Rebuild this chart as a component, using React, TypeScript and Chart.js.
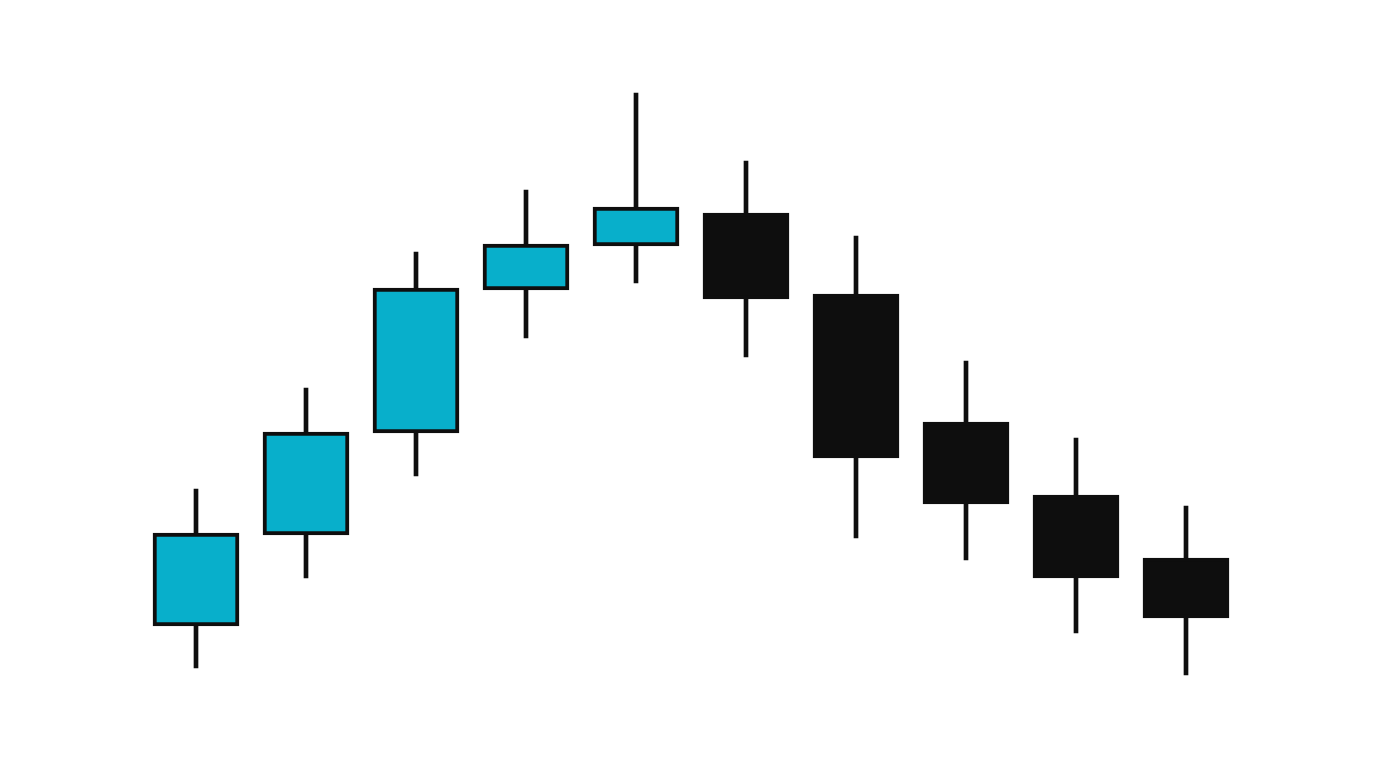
import {useEffect, useRef} from 'react'
import {Chart, registerables} from 'chart.js'

Chart.register(...registerables);

// ten sessions, price levels
const sessions = ['1', '2', '3', '4', '5', '6', '7', '8', '9', '10'];
const openPrices = [142, 233, 335, 478, 522, 555, 474, 346, 273, 210];
const closePrices = [235, 336, 480, 524, 561, 469, 310, 264, 190, 150];
const highPrices = [279, 380, 516, 578, 675, 607, 532, 407, 330, 262];
const lowPrices = [100, 190, 292, 430, 485, 411, 230, 208, 135, 93];

const UP_COLOR = '#08afcb';
const DOWN_COLOR = '#0e0e0e';

const CandleChart: React.FC = () => {
    const canvasRef = useRef<HTMLCanvasElement>(null);
    const chartRef = useRef<Chart | null>(null);

    useEffect(() => {
        document.body.style.margin = '0';
        if (!canvasRef.current) return;
        if (chartRef.current) {
            chartRef.current.destroy();
        }

        const bodies = openPrices.map((o, i) => [o, closePrices[i]]);
        const wicks = lowPrices.map((l, i) => [l, highPrices[i]]);
        const bodyColors = openPrices.map((o, i) => (closePrices[i] >= o ? UP_COLOR : DOWN_COLOR));

        chartRef.current = new Chart(canvasRef.current, {
            type: 'bar',
            data: {
                labels: sessions,
                datasets: [
                    {
                        label: 'Body',
                        data: bodies as any,
                        backgroundColor: bodyColors,
                        borderColor: '#0e0e0e',
                        borderWidth: 4,
                        borderSkipped: false,
                        barThickness: 86,
                        grouped: false,
                        order: 1,
                    },
                    {
                        label: 'Wick',
                        data: wicks as any,
                        backgroundColor: '#0e0e0e',
                        borderWidth: 0,
                        barThickness: 4,
                        grouped: false,
                        order: 2,
                    },
                ],
            },
            options: {
                animation: false,
                responsive: true,
                maintainAspectRatio: false,
                layout: {padding: {left: 141, right: 135, top: 0, bottom: 0}},
                plugins: {
                    legend: {display: false},
                    tooltip: {enabled: false},
                },
                scales: {
                    x: {display: false},
                    y: {display: false, min: 0, max: 768},
                },
            },
        });

        return () => {
            chartRef.current?.destroy();
            chartRef.current = null;
        };
    }, []);

    return (
        <div style={{position: 'relative', width: 1376, height: 768, background: '#ffffff'}}>
            <canvas ref={canvasRef}/>
        </div>
    );
};

export default function App() {
    return <CandleChart/>;
}
